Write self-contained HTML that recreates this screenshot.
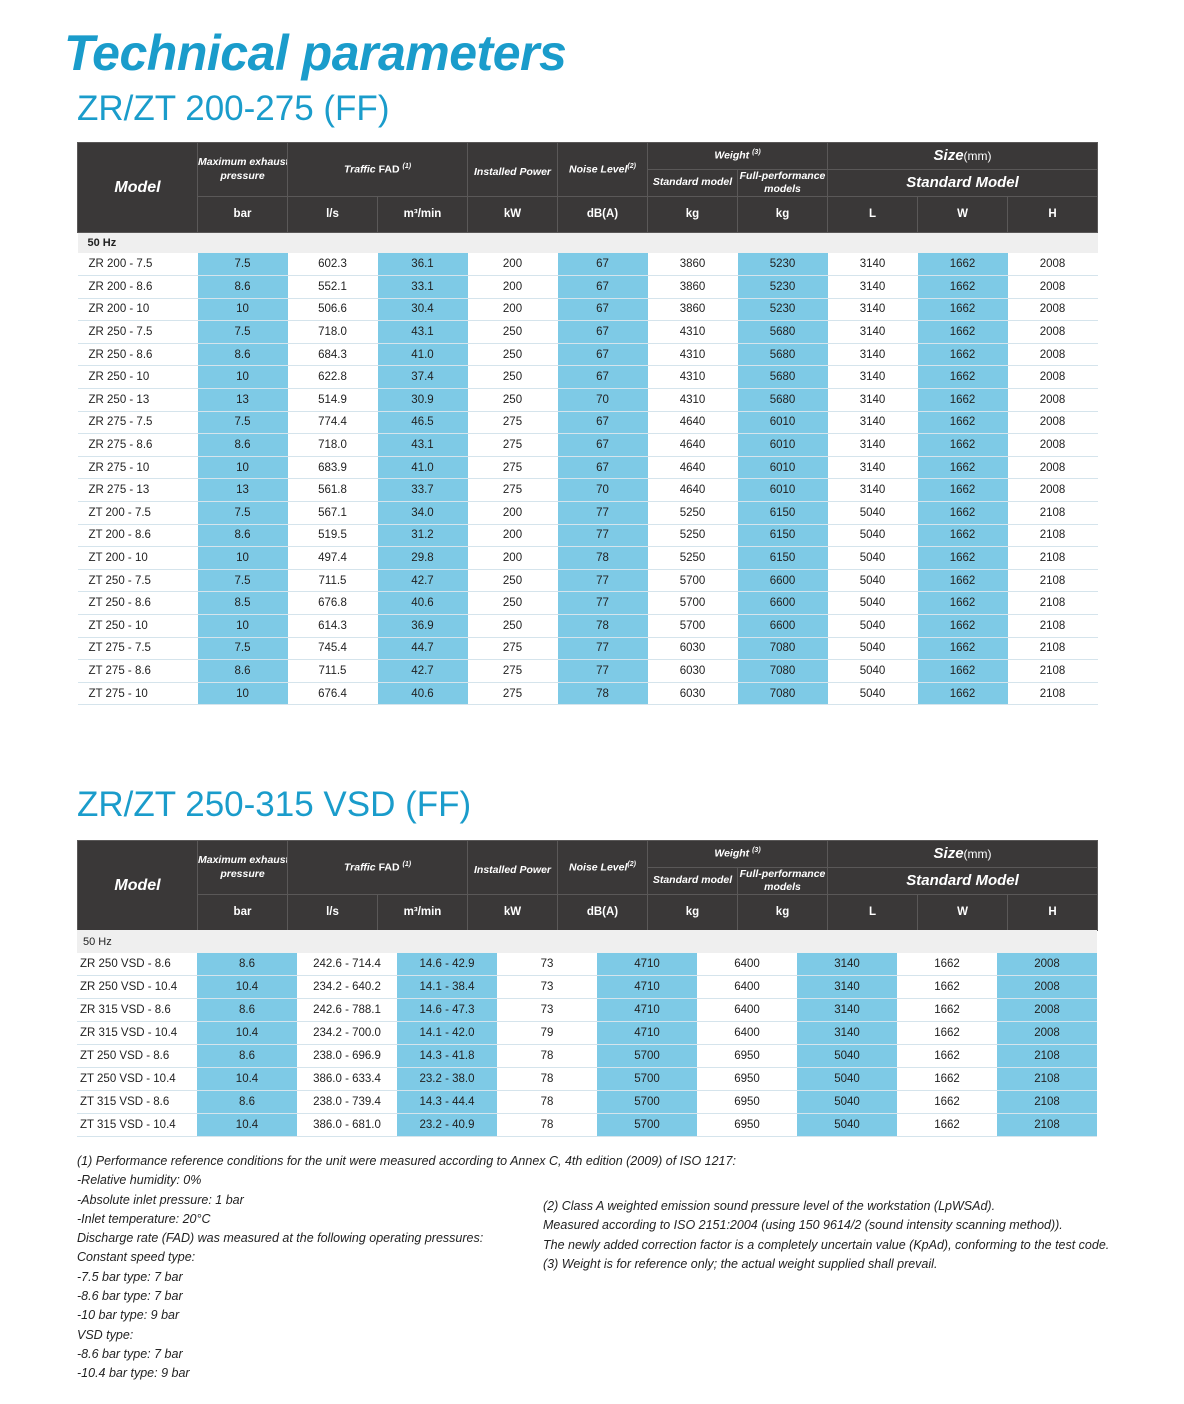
<!DOCTYPE html>
<html><head><meta charset="utf-8"><style>
body{margin:0;width:1184px;height:1404px;background:#fff;position:relative;font-family:"Liberation Sans",sans-serif;color:#222;overflow:hidden}
.t{position:absolute;color:#1a9ccb;white-space:nowrap}
table{position:absolute;left:77px;border-collapse:collapse;table-layout:fixed;width:1020px}
td{padding:0;text-align:center;font-size:11.5px;white-space:nowrap;overflow:hidden}
.h td{background:#3a3838;color:#fff;font-weight:bold;font-style:italic;border:1px solid #5a5858;font-size:10.5px;line-height:1.25}
.h td.u{font-style:normal;font-size:11.5px}
.hz td{background:#efefef;text-align:left;padding-left:10px;font-size:11px;font-weight:bold;height:20px}
.b td{border-bottom:1px solid #d5e4ec;}
.b td:first-child{text-align:left;padding-left:11px}
.t1 .b td:nth-child(2),.t1 .b td:nth-child(4),.t1 .b td:nth-child(6),.t1 .b td:nth-child(8),.t1 .b td:nth-child(10){background:#7ecae6}
.t2 .b td:nth-child(2),.t2 .b td:nth-child(4),.t2 .b td:nth-child(6),.t2 .b td:nth-child(8),.t2 .b td:nth-child(10){background:#7ecae6}
.t1 .b tr{height:22.6px}
.t2 .b tr{height:22.9px}
.n{position:absolute;font-style:italic;font-size:12.5px;line-height:19.3px;white-space:nowrap;color:#222}
</style></head><body>
<div class="t" style="left:64px;top:24px;font-size:50px;font-style:italic;font-weight:bold;letter-spacing:-0.5px">Technical parameters</div>
<div class="t" style="left:77px;top:89px;font-size:35px">ZR/ZT 200-275 (FF)</div>
<div class="t" style="left:77px;top:785px;font-size:35px">ZR/ZT 250-315 VSD (FF)</div>

<table class="t1" style="top:142px">
<colgroup><col style="width:120px"><col span="10" style="width:90px"></colgroup>
<tbody class="h">
<tr style="height:27px"><td rowspan="3" style="font-size:16px">Model</td><td rowspan="2">Maximum exhaust<br>pressure</td><td rowspan="2" colspan="2">Traffic <span style="font-style:normal">FAD</span> <sup style="font-size:7px">(1)</sup></td><td rowspan="2" style="padding-top:6px">Installed Power</td><td rowspan="2">Noise Level<sup style="font-size:7px">(2)</sup></td><td colspan="2">Weight <sup style="font-size:7px">(3)</sup></td><td colspan="3" style="font-size:15px">Size<span style="font-style:normal;font-weight:normal;font-size:12px">(mm)</span></td></tr>
<tr style="height:27px"><td>Standard model</td><td style="line-height:1.2">Full-performance<br>models</td><td colspan="3" style="font-size:15px">Standard Model</td></tr>
<tr style="height:36px"><td class="u">bar</td><td class="u">l/s</td><td class="u">m³/min</td><td class="u">kW</td><td class="u">dB(A)</td><td class="u">kg</td><td class="u">kg</td><td class="u">L</td><td class="u">W</td><td class="u">H</td></tr>
</tbody>
<tbody class="hz"><tr><td colspan="11">50 Hz</td></tr></tbody>
<tbody class="b">
<tr><td>ZR 200 - 7.5</td><td>7.5</td><td>602.3</td><td>36.1</td><td>200</td><td>67</td><td>3860</td><td>5230</td><td>3140</td><td>1662</td><td>2008</td></tr>
<tr><td>ZR 200 - 8.6</td><td>8.6</td><td>552.1</td><td>33.1</td><td>200</td><td>67</td><td>3860</td><td>5230</td><td>3140</td><td>1662</td><td>2008</td></tr>
<tr><td>ZR 200 - 10</td><td>10</td><td>506.6</td><td>30.4</td><td>200</td><td>67</td><td>3860</td><td>5230</td><td>3140</td><td>1662</td><td>2008</td></tr>
<tr><td>ZR 250 - 7.5</td><td>7.5</td><td>718.0</td><td>43.1</td><td>250</td><td>67</td><td>4310</td><td>5680</td><td>3140</td><td>1662</td><td>2008</td></tr>
<tr><td>ZR 250 - 8.6</td><td>8.6</td><td>684.3</td><td>41.0</td><td>250</td><td>67</td><td>4310</td><td>5680</td><td>3140</td><td>1662</td><td>2008</td></tr>
<tr><td>ZR 250 - 10</td><td>10</td><td>622.8</td><td>37.4</td><td>250</td><td>67</td><td>4310</td><td>5680</td><td>3140</td><td>1662</td><td>2008</td></tr>
<tr><td>ZR 250 - 13</td><td>13</td><td>514.9</td><td>30.9</td><td>250</td><td>70</td><td>4310</td><td>5680</td><td>3140</td><td>1662</td><td>2008</td></tr>
<tr><td>ZR 275 - 7.5</td><td>7.5</td><td>774.4</td><td>46.5</td><td>275</td><td>67</td><td>4640</td><td>6010</td><td>3140</td><td>1662</td><td>2008</td></tr>
<tr><td>ZR 275 - 8.6</td><td>8.6</td><td>718.0</td><td>43.1</td><td>275</td><td>67</td><td>4640</td><td>6010</td><td>3140</td><td>1662</td><td>2008</td></tr>
<tr><td>ZR 275 - 10</td><td>10</td><td>683.9</td><td>41.0</td><td>275</td><td>67</td><td>4640</td><td>6010</td><td>3140</td><td>1662</td><td>2008</td></tr>
<tr><td>ZR 275 - 13</td><td>13</td><td>561.8</td><td>33.7</td><td>275</td><td>70</td><td>4640</td><td>6010</td><td>3140</td><td>1662</td><td>2008</td></tr>
<tr><td>ZT 200 - 7.5</td><td>7.5</td><td>567.1</td><td>34.0</td><td>200</td><td>77</td><td>5250</td><td>6150</td><td>5040</td><td>1662</td><td>2108</td></tr>
<tr><td>ZT 200 - 8.6</td><td>8.6</td><td>519.5</td><td>31.2</td><td>200</td><td>77</td><td>5250</td><td>6150</td><td>5040</td><td>1662</td><td>2108</td></tr>
<tr><td>ZT 200 - 10</td><td>10</td><td>497.4</td><td>29.8</td><td>200</td><td>78</td><td>5250</td><td>6150</td><td>5040</td><td>1662</td><td>2108</td></tr>
<tr><td>ZT 250 - 7.5</td><td>7.5</td><td>711.5</td><td>42.7</td><td>250</td><td>77</td><td>5700</td><td>6600</td><td>5040</td><td>1662</td><td>2108</td></tr>
<tr><td>ZT 250 - 8.6</td><td>8.5</td><td>676.8</td><td>40.6</td><td>250</td><td>77</td><td>5700</td><td>6600</td><td>5040</td><td>1662</td><td>2108</td></tr>
<tr><td>ZT 250 - 10</td><td>10</td><td>614.3</td><td>36.9</td><td>250</td><td>78</td><td>5700</td><td>6600</td><td>5040</td><td>1662</td><td>2108</td></tr>
<tr><td>ZT 275 - 7.5</td><td>7.5</td><td>745.4</td><td>44.7</td><td>275</td><td>77</td><td>6030</td><td>7080</td><td>5040</td><td>1662</td><td>2108</td></tr>
<tr><td>ZT 275 - 8.6</td><td>8.6</td><td>711.5</td><td>42.7</td><td>275</td><td>77</td><td>6030</td><td>7080</td><td>5040</td><td>1662</td><td>2108</td></tr>
<tr><td>ZT 275 - 10</td><td>10</td><td>676.4</td><td>40.6</td><td>275</td><td>78</td><td>6030</td><td>7080</td><td>5040</td><td>1662</td><td>2108</td></tr>
</tbody></table>

<table style="top:840px">
<colgroup><col style="width:120px"><col span="10" style="width:90px"></colgroup>
<tbody class="h">
<tr style="height:27px"><td rowspan="3" style="font-size:16px">Model</td><td rowspan="2">Maximum exhaust<br>pressure</td><td rowspan="2" colspan="2">Traffic <span style="font-style:normal">FAD</span> <sup style="font-size:7px">(1)</sup></td><td rowspan="2" style="padding-top:6px">Installed Power</td><td rowspan="2">Noise Level<sup style="font-size:7px">(2)</sup></td><td colspan="2">Weight <sup style="font-size:7px">(3)</sup></td><td colspan="3" style="font-size:15px">Size<span style="font-style:normal;font-weight:normal;font-size:12px">(mm)</span></td></tr>
<tr style="height:27px"><td>Standard model</td><td style="line-height:1.2">Full-performance<br>models</td><td colspan="3" style="font-size:15px">Standard Model</td></tr>
<tr style="height:36px"><td class="u">bar</td><td class="u">l/s</td><td class="u">m³/min</td><td class="u">kW</td><td class="u">dB(A)</td><td class="u">kg</td><td class="u">kg</td><td class="u">L</td><td class="u">W</td><td class="u">H</td></tr>
</tbody></table>

<table class="t2" style="top:930px">
<colgroup><col style="width:120px"><col span="9" style="width:100px"></colgroup>
<tbody class="hz"><tr style="height:23px"><td colspan="10" style="font-weight:normal;padding-left:6px">50 Hz</td></tr></tbody>
<tbody class="b">
<tr><td style="padding-left:3px">ZR 250 VSD - 8.6</td><td>8.6</td><td>242.6 - 714.4</td><td>14.6 - 42.9</td><td>73</td><td>4710</td><td>6400</td><td>3140</td><td>1662</td><td>2008</td></tr>
<tr><td style="padding-left:3px">ZR 250 VSD - 10.4</td><td>10.4</td><td>234.2 - 640.2</td><td>14.1 - 38.4</td><td>73</td><td>4710</td><td>6400</td><td>3140</td><td>1662</td><td>2008</td></tr>
<tr><td style="padding-left:3px">ZR 315 VSD - 8.6</td><td>8.6</td><td>242.6 - 788.1</td><td>14.6 - 47.3</td><td>73</td><td>4710</td><td>6400</td><td>3140</td><td>1662</td><td>2008</td></tr>
<tr><td style="padding-left:3px">ZR 315 VSD - 10.4</td><td>10.4</td><td>234.2 - 700.0</td><td>14.1 - 42.0</td><td>79</td><td>4710</td><td>6400</td><td>3140</td><td>1662</td><td>2008</td></tr>
<tr><td style="padding-left:3px">ZT 250 VSD - 8.6</td><td>8.6</td><td>238.0 - 696.9</td><td>14.3 - 41.8</td><td>78</td><td>5700</td><td>6950</td><td>5040</td><td>1662</td><td>2108</td></tr>
<tr><td style="padding-left:3px">ZT 250 VSD - 10.4</td><td>10.4</td><td>386.0 - 633.4</td><td>23.2 - 38.0</td><td>78</td><td>5700</td><td>6950</td><td>5040</td><td>1662</td><td>2108</td></tr>
<tr><td style="padding-left:3px">ZT 315 VSD - 8.6</td><td>8.6</td><td>238.0 - 739.4</td><td>14.3 - 44.4</td><td>78</td><td>5700</td><td>6950</td><td>5040</td><td>1662</td><td>2108</td></tr>
<tr><td style="padding-left:3px">ZT 315 VSD - 10.4</td><td>10.4</td><td>386.0 - 681.0</td><td>23.2 - 40.9</td><td>78</td><td>5700</td><td>6950</td><td>5040</td><td>1662</td><td>2108</td></tr>
</tbody></table>

<div class="n" style="left:77px;top:1152px">(1) Performance reference conditions for the unit were measured according to Annex C, 4th edition (2009) of ISO 1217:<br>-Relative humidity: 0%<br>-Absolute inlet pressure: 1 bar<br>-Inlet temperature: 20°C<br>Discharge rate (FAD) was measured at the following operating pressures:<br>Constant speed type:<br>-7.5 bar type: 7 bar<br>-8.6 bar type: 7 bar<br>-10 bar type: 9 bar<br>VSD type:<br>-8.6 bar type: 7 bar<br>-10.4 bar type: 9 bar</div>
<div class="n" style="left:543px;top:1197px">(2) Class A weighted emission sound pressure level of the workstation (LpWSAd).<br>Measured according to ISO 2151:2004 (using 150 9614/2 (sound intensity scanning method)).<br>The newly added correction factor is a completely uncertain value (KpAd), conforming to the test code.<br>(3) Weight is for reference only; the actual weight supplied shall prevail.</div>
</body></html>
